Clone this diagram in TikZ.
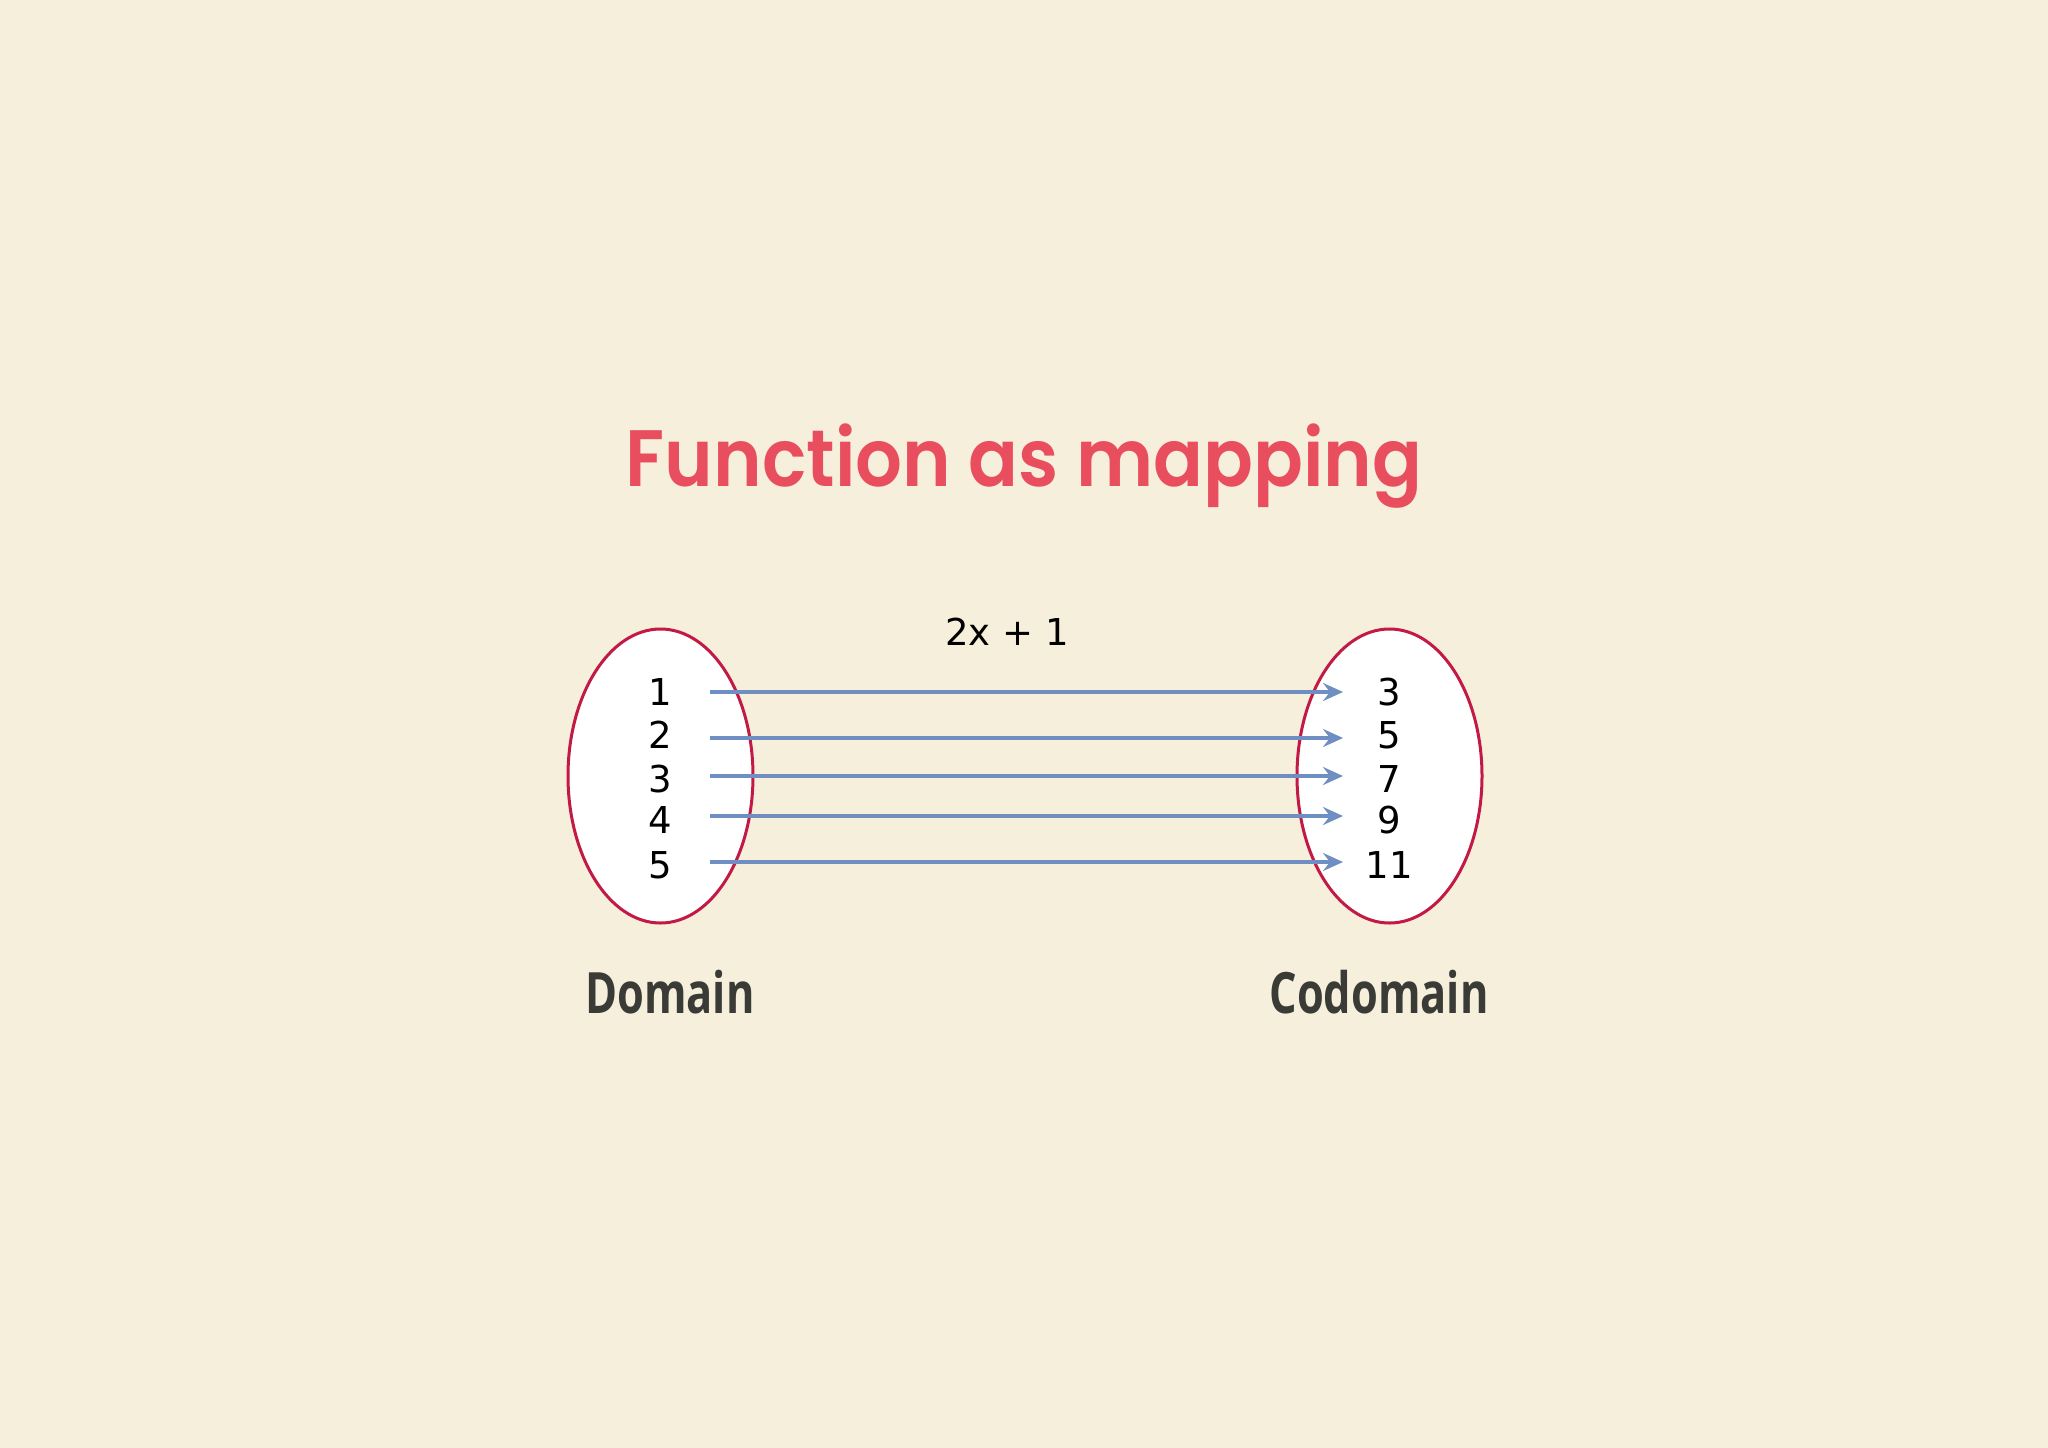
\documentclass[tikz,border=0pt]{standalone}
\usepackage{fontspec}
\usetikzlibrary{arrows.meta}
\newfontfamily\titlefont[FakeStretch=0.92]{Poppins SemiBold}
\newfontfamily\numfont{DejaVu Sans}
\newfontfamily\labfont[FakeStretch=0.76]{Open Sans}
\definecolor{bg}{HTML}{F6EFDB}
\definecolor{titlered}{HTML}{E84E5E}
\definecolor{ellred}{HTML}{C21A45}
\definecolor{arrowblue}{HTML}{6F8FC2}
\definecolor{labgray}{HTML}{3A3A36}
\tikzset{
  setell/.style={draw=ellred, line width=3pt, fill=white},
  num/.style={font=\numfont\fontsize{37}{37}\selectfont, text=black, inner sep=0pt, anchor=base},
  maparrow/.style={draw=arrowblue, line width=3.2pt, -{Stealth[length=20pt,width=18pt,inset=7pt]}},
  lab/.style={font=\labfont\bfseries\fontsize{57}{57}\selectfont, text=labgray, inner sep=0pt, anchor=base},
}
\begin{document}
\begin{tikzpicture}[x=1pt,y=-1pt]
\fill[bg] (0,0) rectangle (2048,1448);
\useasboundingbox (0,0) rectangle (2048,1448);
\node[font=\titlefont\fontsize{80}{80}\selectfont, text=titlered, inner sep=0pt, anchor=base] (title) at (1024,486) {Function as mapping};
\path[setell] (660.5,776) ellipse [x radius=92.5, y radius=147];
\path[setell] (1389.5,776) ellipse [x radius=92.5, y radius=147];
\node[num] (d1) at (660,705) {1};
\node[num] (d2) at (660,748) {2};
\node[num] (d3) at (660,792) {3};
\node[num] (d4) at (660,833) {4};
\node[num] (d5) at (660,878) {5};
\node[num] (c1) at (1389,705) {3};
\node[num] (c2) at (1389,748) {5};
\node[num] (c3) at (1389,792) {7};
\node[num] (c4) at (1389,833) {9};
\node[num] (c5) at (1389,878) {11};
\coordinate (s1) at (710,692);  \coordinate (e1) at (1343,692);
\coordinate (s2) at (710,738);  \coordinate (e2) at (1343,738);
\coordinate (s3) at (710,776);  \coordinate (e3) at (1343,776);
\coordinate (s4) at (710,816);  \coordinate (e4) at (1343,816);
\coordinate (s5) at (710,862);  \coordinate (e5) at (1343,862);
\foreach \i in {1,...,5} {
  \draw[maparrow] (s\i) -- (e\i);
}
\node[num] (rule) at (1007,645) {2x + 1};
\node[lab] (dom) at (670,1013) {Domain};
\node[lab] (cod) at (1379,1013) {Codomain};
\end{tikzpicture}
\end{document}
